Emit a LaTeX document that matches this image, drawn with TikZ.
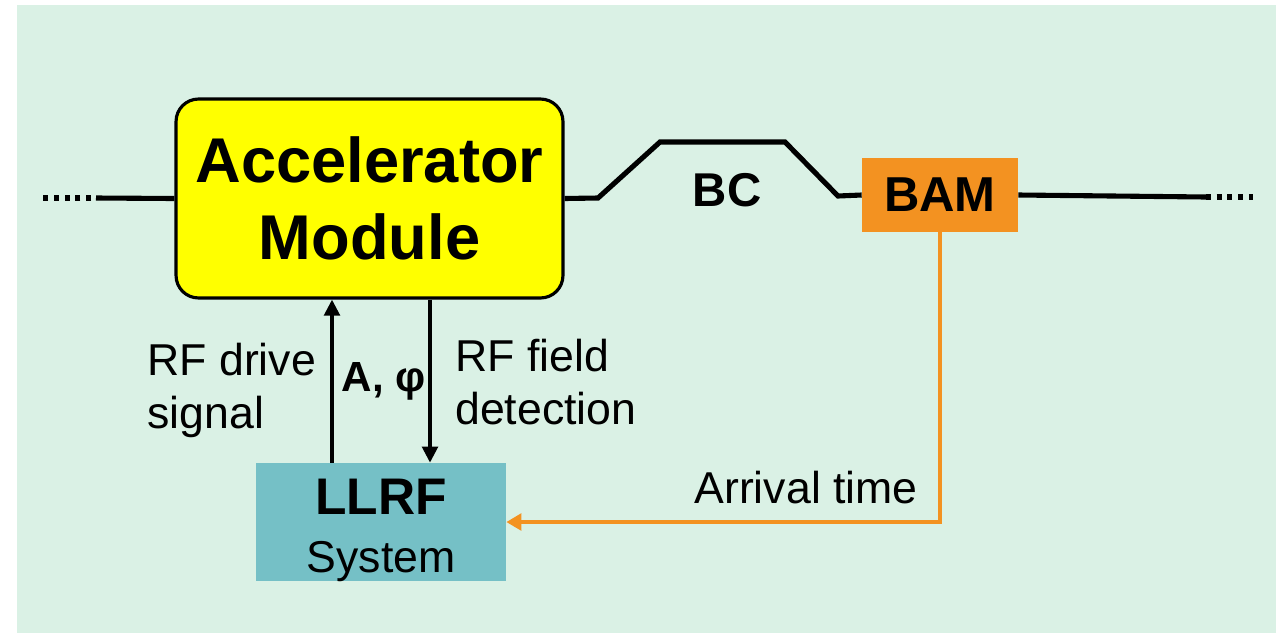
\documentclass[tikz,border=0pt]{standalone}
\usepackage{fontspec}
\setmainfont{Liberation Sans}
\usepackage{xcolor}
\usetikzlibrary{calc,positioning,arrows.meta}

\definecolor{mint}{RGB}{218,241,229}
\definecolor{accyellow}{RGB}{255,255,0}
\definecolor{bamorange}{RGB}{243,146,33}
\definecolor{llrfteal}{RGB}{117,192,198}

\newcommand{\lblfont}{\fontsize{25.4}{30.2}\selectfont}

\tikzset{
	beam/.style={line width=2.9pt},
	beamdots/.style={line width=3pt, dash pattern=on 2.8pt off 3.3pt},
	sig/.style={line width=2.1pt, -{Triangle[width=0.31cm,length=0.32cm]}},
	arrive/.style={bamorange, line width=2.6pt, -{Triangle[width=0.33cm,length=0.3cm]}},
}

\begin{document}
\begin{tikzpicture}[x=0.02cm, y=-0.02cm]
			\useasboundingbox (0,0) rectangle (1281,633);
			\fill[mint] (17,5) rectangle (1276,633);

			\node[draw, line width=1.8pt, fill=accyellow, rounded corners=0.45cm, minimum width=7.74cm, minimum height=3.98cm, align=center, font=\fontsize{36}{43.8}\selectfont\bfseries] (acc) at (369.5,198.5) {Accelerator\\Module};
			\node[fill=bamorange, minimum width=3.12cm, minimum height=1.48cm, font=\fontsize{27.9}{32}\selectfont\bfseries] (bam) at (940,195) {BAM};
			\node[fill=llrfteal, minimum width=5cm, minimum height=2.36cm] (llrf) at (381,522) {};
			\node[align=center, inner sep=0, font=\fontsize{25.4}{33}\selectfont] (llrftxt) at ($(llrf.center)+(0,8)$) {{\fontsize{29.3}{33}\selectfont\bfseries LLRF}\\System};

			\coordinate (lend) at (96,198);
			\coordinate (rend) at (1206,197);
			\draw[beam] (lend) -- (acc.west);
			\draw[beamdots] (91,198) -- (43,198);
			\draw[beam] (bam.east) -- (rend);
			\draw[beamdots] (rend) -- ++(47,0);

			\coordinate (bc1) at (598,198);
			\coordinate (bc2) at (660,142);
			\coordinate (bc3) at (785,142);
			\coordinate (bc4) at (838,196);
			\draw[beam] (acc.east) -- (bc1) -- (bc2) -- (bc3) -- (bc4) -- (bam.west);
			\node[font=\fontsize{27}{32}\selectfont\bfseries] (bc) at (727,190) {BC};

			\coordinate (drv) at (332,0);
			\coordinate (det) at (430,0);
			\draw[sig] (drv |- llrf.north) -- (drv |- acc.south);
			\draw[sig] (det |- acc.south) -- (det |- llrf.north);
			\draw[arrive] (bam.south) |- (llrf.east);

			\node[anchor=north west, inner sep=0, align=left, font=\lblfont] (drvtxt) at (147,343) {RF drive\\signal};
			\node[anchor=north west, inner sep=0, align=left, font=\lblfont] (dettxt) at (455,339) {RF field\\detection};
			\node[font=\fontsize{24}{28}\selectfont\bfseries] (ampph) at (384,381) {A, φ};
			\node[anchor=base east, inner sep=0, font=\lblfont] (arrtxt) at (918,503) {Arrival time};
	\end{tikzpicture}
\end{document}
